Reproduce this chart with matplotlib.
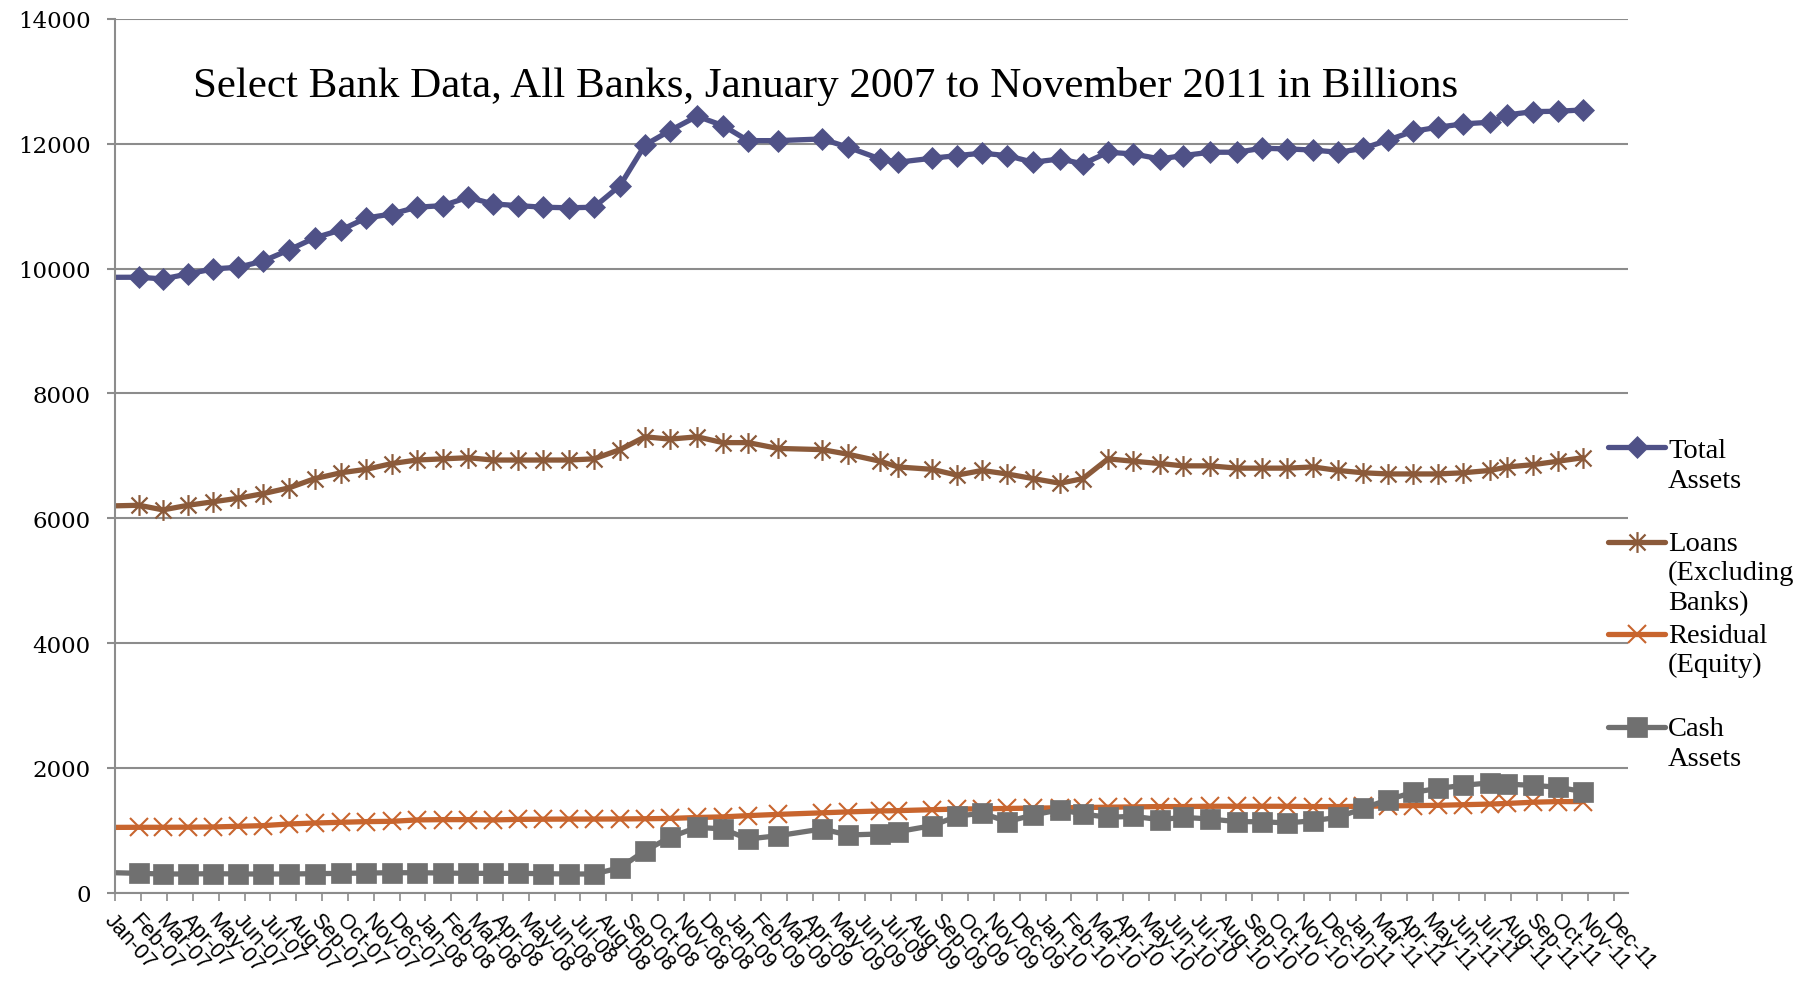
import matplotlib
matplotlib.use("Agg")
import matplotlib.pyplot as plt
from matplotlib.path import Path
from matplotlib.lines import Line2D

# ---------------- data ----------------
months = ["Jan", "Feb", "Mar", "Apr", "May", "Jun", "Jul", "Aug", "Sep", "Oct", "Nov", "Dec"]
tick_labels = [f"{m}-{y:02d}" for y in range(7, 12) for m in months
               if not (y == 11 and m == "Feb")]

# observation position on the month axis (0 = Jan-07 tick)
obs_pos = [-0.97, 0.917, 1.846, 2.814, 3.781, 4.749, 5.716, 6.722, 7.728, 8.735,
           9.702, 10.708, 11.675, 12.682, 13.649, 14.617, 15.584, 16.552, 17.558,
           18.525, 19.532, 20.499, 21.467, 22.512, 23.518, 24.486, 25.647, 27.349,
           28.356, 29.594, 30.291, 31.607, 32.574, 33.542, 34.509, 35.515, 36.560,
           37.450, 38.418, 39.385, 40.430, 41.320, 42.365, 43.410, 44.377, 45.345,
           46.351, 47.319, 48.286, 49.254, 50.221, 51.189, 52.156, 53.201, 53.859,
           54.865, 55.832, 56.800]

total_assets = [9860, 9862, 9835, 9915, 9995, 10022, 10120, 10300, 10495, 10620,
                10810, 10877, 10984, 11010, 11144, 11037, 11010, 10984, 10975, 10984,
                11330, 11982, 12212, 12442, 12292, 12051, 12051, 12078, 11945, 11758,
                11705, 11769, 11811, 11850, 11811, 11705, 11758, 11678, 11865, 11838,
                11758, 11811, 11865, 11865, 11929, 11918, 11900, 11865, 11925, 12060,
                12200, 12266, 12319, 12346, 12463, 12516, 12522, 12543]

loans = [6190, 6208, 6134, 6208, 6264, 6320, 6394, 6487, 6636, 6729,
         6784, 6877, 6933, 6952, 6970, 6933, 6933, 6933, 6933, 6952,
         7100, 7305, 7268, 7305, 7212, 7212, 7119, 7100, 7026, 6914,
         6822, 6784, 6691, 6766, 6710, 6636, 6561, 6636, 6952, 6914,
         6877, 6840, 6840, 6803, 6803, 6803, 6822, 6766, 6729, 6710,
         6710, 6710, 6729, 6766, 6822, 6859, 6914, 6970]

residual = [1045, 1048, 1048, 1050, 1053, 1064, 1075, 1101, 1117, 1128,
            1139, 1144, 1166, 1171, 1171, 1166, 1175, 1178, 1180, 1180,
            1182, 1185, 1190, 1205, 1215, 1235, 1255, 1280, 1295, 1310,
            1315, 1330, 1340, 1345, 1350, 1355, 1360, 1365, 1370, 1375,
            1380, 1380, 1385, 1385, 1385, 1385, 1380, 1380, 1385, 1390,
            1395, 1400, 1410, 1420, 1430, 1450, 1460, 1460]

cash = [330, 310, 300, 300, 305, 300, 300, 300, 305, 310,
        315, 320, 320, 315, 310, 310, 310, 305, 300, 300,
        400, 673, 888, 1048, 1021, 861, 913, 1021, 925, 941,
        978, 1074, 1224, 1277, 1138, 1245, 1330, 1261, 1208, 1224,
        1170, 1208, 1181, 1138, 1138, 1117, 1154, 1208, 1352, 1490,
        1608, 1670, 1720, 1760, 1740, 1720, 1690, 1620]

series_names = [["Total", "Assets"], ["Loans", "(Excluding", "Banks)"],
                ["Residual", "(Equity)"], ["Cash", "Assets"]]
title = "Select Bank Data, All Banks, January 2007 to November 2011 in Billions"

# ---------------- style ----------------
W, H = 1816, 987
fig = plt.figure(figsize=(W / 100, H / 100), dpi=100)
L, R, T, B = 115.3, 1628, 20, 893.7
ax = fig.add_axes([L / W, 1 - B / H, (R - L) / W, (B - T) / H])

star = Path([(-1, -1), (1, 1), (-1, 1), (1, -1), (0, -1.3), (0, 1.3)],
            [Path.MOVETO, Path.LINETO, Path.MOVETO, Path.LINETO, Path.MOVETO, Path.LINETO])

styles = [
    dict(color="#4F5187", marker="D", ms=11, mec="#4F5187", mfc="#4F5187", mew=0.5),
    dict(color="#8B5A3A", marker=star, ms=15, mec="#8B5A3A", mfc="none", mew=1.6),
    dict(color="#C8652E", marker="x", ms=13.5, mec="#C8652E", mew=1.5),
    dict(color="#707070", marker="s", ms=14.5, mec="#707070", mfc="#707070", mew=0.5),
]
data = [total_assets, loans, residual, cash]

for vals, st in zip(data, styles):
    ax.plot(obs_pos, vals, lw=3.8, solid_joinstyle="round", solid_capstyle="round",
            clip_on=True, **st)

grid_c = "#8C8C8C"
ax.set_xlim(0, 58.54)
ax.set_ylim(0, 14000)
ax.set_yticks(range(0, 14001, 2000))
ax.yaxis.grid(True, color=grid_c, lw=1.5)
ax.set_axisbelow(True)
for s in ("top", "right"):
    ax.spines[s].set_visible(False)
for s in ("left", "bottom"):
    ax.spines[s].set_color(grid_c)
    ax.spines[s].set_linewidth(1.5)

ax.set_xticks(range(len(tick_labels)))
ax.set_xticklabels(tick_labels, rotation=-48, ha="left", va="top",
                   rotation_mode="anchor", fontfamily="Liberation Sans", fontsize=15.5)
ax.tick_params(axis="x", length=5.8, width=1.2, color=grid_c, pad=6)
ax.tick_params(axis="y", length=5.8, width=1.5, color=grid_c, pad=12,
               labelsize=16.5)
for lab in ax.get_yticklabels():
    lab.set_fontfamily("DejaVu Serif")

fig.text(826 / W, 1 - 97 / H, title, ha="center", va="baseline",
         fontfamily="Liberation Serif", fontsize=31)

# ---------------- legend (manual) ----------------
handle_y = [448.3, 542.7, 635, 728.3]
first_base = [458.3, 550.7, 642.7, 736]
line_gap = 29.7
for names, st, hy, by in zip(series_names, styles, handle_y, first_base):
    yy = 1 - hy / H
    ln = Line2D([1608 / W, 1637 / W, 1665 / W], [yy, yy, yy], transform=fig.transFigure,
                lw=3.8, markevery=[1], solid_capstyle="round", **st)
    fig.add_artist(ln)
    for i, nm in enumerate(names):
        fig.text(1668 / W, 1 - (by + i * line_gap) / H, nm, ha="left", va="baseline",
                 fontfamily="Liberation Serif", fontsize=20.5)

fig.savefig("out.png", dpi=100)
